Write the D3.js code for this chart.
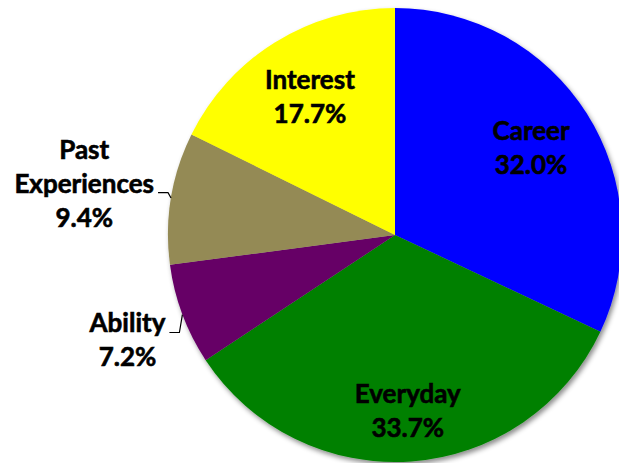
<!DOCTYPE html>
<html>
<head>
<meta charset="utf-8">
<script src="https://cdn.jsdelivr.net/npm/d3@7"></script>
<style>
  html, body { margin: 0; padding: 0; background: #fff; }
  svg { display: block; font-family: Lato, "Open Sans", sans-serif; font-weight: bold; }
</style>
</head>
<body>
<section></section>
<script>
const categories = ["Career", "Everyday", "Ability", "Past Experiences", "Interest"];
const values = [32.0, 33.7, 7.2, 9.4, 17.7];
const colors = ["#0000ff", "#008000", "#660066", "#948a54", "#ffff00"];
const outside = ["Ability", "Past Experiences"]; // these labels sit outside with a leader line

const width = 619;
const height = 463;
const cx = 395;
const cy = 235;
const radius = 227;
const fontSize = 26;
const lineHeight = 34;

const data = categories.map((c, i) => ({ name: c, value: values[i], color: colors[i] }));

const pie = d3.pie().sort(null).value(d => d.value);
const arcs = pie(data);

const arc = d3.arc().innerRadius(0).outerRadius(radius);
const fmt = d => d3.format(".1f")(d) + "%";

const svg = d3.select("section")
    .append("svg")
    .attr("width", width)
    .attr("height", height)
    .attr("viewBox", [0, 0, width, height]);

// drop shadow like the original
const filter = svg.append("defs").append("filter")
    .attr("id", "shadow")
    .attr("x", "-10%").attr("y", "-10%")
    .attr("width", "130%").attr("height", "130%");
filter.append("feDropShadow")
    .attr("dx", 2).attr("dy", 3)
    .attr("stdDeviation", 2.5)
    .attr("flood-color", "#000")
    .attr("flood-opacity", 0.45);

const g = svg.append("g").attr("transform", `translate(${cx},${cy})`);

g.append("g")
    .attr("filter", "url(#shadow)")
    .selectAll("path")
    .data(arcs)
    .join("path")
    .attr("d", arc)
    .attr("fill", d => d.data.color);

const mid = d => (d.startAngle + d.endAngle) / 2;

const addText = () => g.append("text")
    .attr("text-anchor", "middle")
    .attr("font-size", fontSize)
    .attr("fill", "#000")
    .attr("stroke", "#000")
    .attr("stroke-width", 0.6);

// labels inside the slices
arcs.filter(d => !outside.includes(d.data.name)).forEach(d => {
    const k = d.data.name === "Everyday" ? 0.78 : 0.71;
    const [x, y] = d3.arc().innerRadius(radius * k).outerRadius(radius * k).centroid(d);
    const t = addText();
    const lines = [d.data.name, fmt(d.data.value)];
    const y0 = y + 8 - lineHeight * (lines.length - 1) / 2;
    lines.forEach((s, i) => {
        t.append("tspan").attr("x", x).attr("y", y0 + i * lineHeight).text(s);
    });
});

// labels outside with leader lines
arcs.filter(d => outside.includes(d.data.name)).forEach(d => {
    const a = mid(d);
    const ex = radius * Math.sin(a);
    const ey = -radius * Math.cos(a);
    const ly = -radius * 1.2 * Math.cos(a) + 2;
    const elbowX = ex - 3;
    const endX = elbowX - 10;

    g.append("path")
        .attr("d", d3.line()([[ex, ey], [elbowX, ly], [endX, ly]]))
        .attr("fill", "none")
        .attr("stroke", "#000")
        .attr("stroke-width", 1.2);

    const nameLines = d.data.name.split(" ");
    const lines = nameLines.concat([fmt(d.data.value)]);
    const anchorIdx = nameLines.length - 1;

    const t = addText();
    const spans = lines.map((s, i) =>
        t.append("tspan").attr("y", ly + (i - anchorIdx) * lineHeight).text(s));
    const w = spans[anchorIdx].node().getComputedTextLength();
    const centerX = endX - 4 - w / 2;
    spans.forEach(s => s.attr("x", centerX));
});
</script>
</body>
</html>
